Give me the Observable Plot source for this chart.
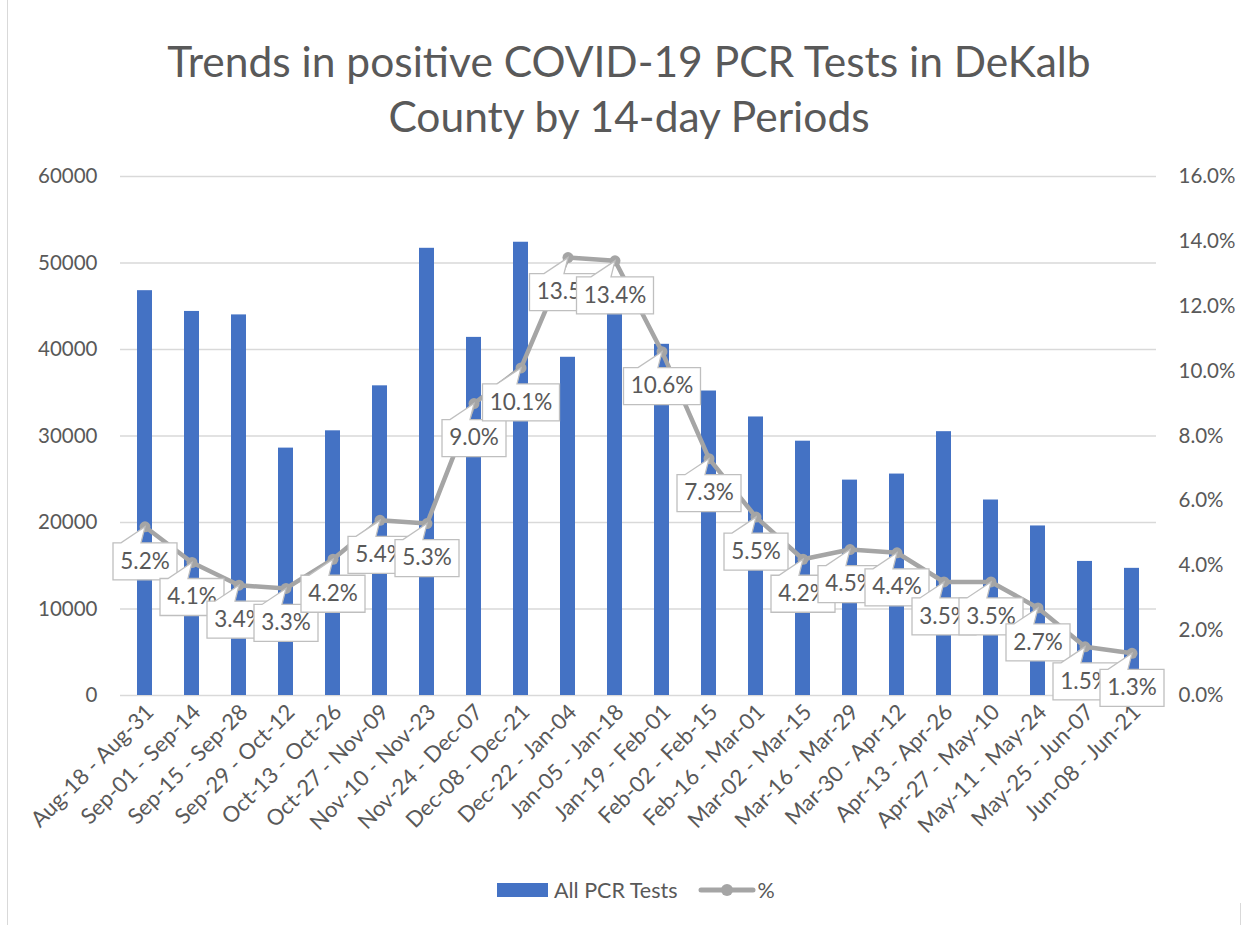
<!DOCTYPE html>
<html>
<head>
<meta charset="utf-8">
<script src="https://cdn.jsdelivr.net/npm/d3@7"></script>
<script src="https://cdn.jsdelivr.net/npm/@observablehq/plot@0.6"></script>
<style>
  body { margin: 0; background: #fff; font-family: Lato, sans-serif; color: #595959; }
  #wrap { position: relative; width: 1253px; height: 925px; overflow: hidden; }
  #chart { position: absolute; left: 0; top: 0; }
  #title { position: absolute; left: 0; width: 1258px; top: 33px; text-align: center; font-size: 42.5px; line-height: 55px; color: #595959; }
  #legend { position: absolute; top: 878px; left: 497px; height: 24px; display: flex; align-items: center; font-size: 21.5px; color: #595959; white-space: nowrap; }
  .bl { position: absolute; border-left: 1px solid #d9d9d9; }
</style>
</head>
<body>
<div id="wrap">
  <div class="bl" style="left:7px;top:0;height:925px"></div>
  <div class="bl" style="left:1240px;top:903px;height:22px"></div>
  <div id="chart"></div>
  <div id="title">Trends in positive COVID-19 PCR Tests in DeKalb<br>County by 14-day Periods</div>
  <div id="legend">
    <span style="display:inline-block;width:51px;height:14px;background:#4472c4"></span>
    <span style="margin-left:6px">All PCR Tests</span>
    <svg width="58" height="16" style="margin-left:20px"><line x1="3" y1="8" x2="55" y2="8" stroke="#a5a5a5" stroke-width="5" stroke-linecap="round"/><circle cx="29" cy="8" r="6" fill="#a5a5a5"/></svg>
    <span style="margin-left:2px">%</span>
  </div>
</div>
<script>
// ---- data ----
const periods = [
  "Aug-18 - Aug-31", "Sep-01 - Sep-14", "Sep-15 - Sep-28", "Sep-29 - Oct-12",
  "Oct-13 - Oct-26", "Oct-27 - Nov-09", "Nov-10 - Nov-23", "Nov-24 - Dec-07",
  "Dec-08 - Dec-21", "Dec-22 - Jan-04", "Jan-05 - Jan-18", "Jan-19 - Feb-01",
  "Feb-02 - Feb-15", "Feb-16 - Mar-01", "Mar-02 - Mar-15", "Mar-16 - Mar-29",
  "Mar-30 - Apr-12", "Apr-13 - Apr-26", "Apr-27 - May-10", "May-11 - May-24",
  "May-25 - Jun-07", "Jun-08 - Jun-21"
];
const allPcrTests = [
  46800, 44400, 44000, 28600, 30600, 35800, 51700, 41400, 52400, 39100, 44800,
  40600, 35200, 32200, 29400, 24900, 25600, 30500, 22600, 19600, 15500, 14700
];
const pctPositive = [
  5.2, 4.1, 3.4, 3.3, 4.2, 5.4, 5.3, 9.0, 10.1, 13.5, 13.4,
  10.6, 7.3, 5.5, 4.2, 4.5, 4.4, 3.5, 3.5, 2.7, 1.5, 1.3
];
const leftTicks = [0, 10000, 20000, 30000, 40000, 50000, 60000];
const rightTicks = [0, 2, 4, 6, 8, 10, 12, 14, 16];

// right axis (0–16%) shares the left axis (0–60000)
const K = 60000 / 16;
const rows = periods.map((p, i) => ({ period: p, tests: allPcrTests[i], pct: pctPositive[i] }));

function callout(w) {
  return {
    draw(ctx) {
      const top = 16, h = 37, l = -w / 2, r = w / 2;
      ctx.moveTo(l, top);
      ctx.lineTo(-24, top);
      ctx.lineTo(0, 0);
      ctx.lineTo(-4, top);
      ctx.lineTo(r, top);
      ctx.lineTo(r, top + h);
      ctx.lineTo(l, top + h);
      ctx.closePath();
    }
  };
}
const narrowBox = callout(64);
const wideBox = callout(77);
const yPct = d => d.pct * K;

const labelMarks = rows.flatMap(d => [
  Plot.dot([d], { x: "period", y: yPct, r: 5, symbol: d.pct >= 10 ? wideBox : narrowBox,
                  fill: "white", stroke: "#bfbfbf", strokeWidth: 1.3 }),
  Plot.text([d], { x: "period", y: yPct, text: v => v.pct.toFixed(1) + "%", dy: 34.5,
                   fontSize: 22.5, fill: "#595959" })
]);

const plot = Plot.plot({
  width: 1253,
  height: 925,
  marginLeft: 120,
  marginRight: 97,
  marginTop: 176,
  marginBottom: 230,
  style: { fontFamily: "Lato, sans-serif", fontSize: "20.5px", color: "#595959", background: "transparent" },
  x: { type: "band", domain: periods, paddingInner: 0.68, paddingOuter: 0.34, label: null },
  y: { domain: [0, 60000], label: null },
  marks: [
    Plot.gridY(leftTicks, { stroke: "#d9d9d9", strokeOpacity: 1, strokeWidth: 1.4 }),
    Plot.axisY({ ticks: leftTicks, tickSize: 0, tickPadding: 23, tickFormat: d => String(d), label: null }),
    Plot.axisY({ anchor: "right", ticks: rightTicks.map(p => p * K), tickSize: 0, tickPadding: 22,
                 tickFormat: v => (v / K).toFixed(1) + "%", label: null }),
    Plot.barY(rows, { x: "period", y: "tests", fill: "#4472c4" }),
    Plot.axisX({ tickRotate: -45, tickSize: 0, tickPadding: 13, dx: 5, fontSize: 22, label: null }),
    Plot.lineY(rows, { x: "period", y: yPct, stroke: "#a5a5a5", strokeWidth: 4.5 }),
    Plot.dot(rows, { x: "period", y: yPct, r: 5.5, fill: "#a5a5a5" }),
    ...labelMarks
  ]
});
document.getElementById("chart").appendChild(plot);
</script>
</body>
</html>
